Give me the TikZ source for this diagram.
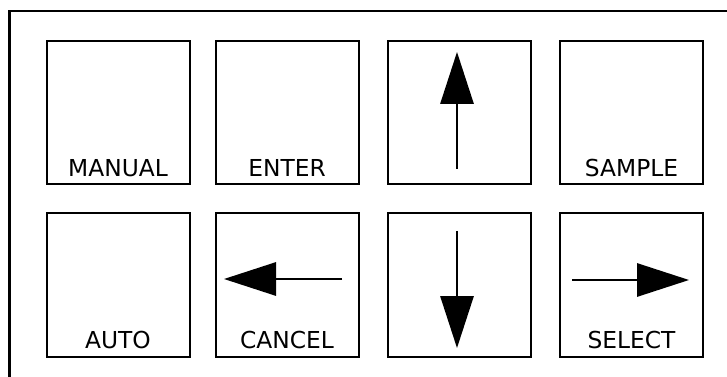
\documentclass[tikz,border=0pt]{standalone}
\usepackage{fontspec}
\setmainfont{DejaVu Sans}
\usetikzlibrary{arrows.meta}
\begin{document}
\begin{tikzpicture}[x=0.75pt,y=-0.75pt]
\tikzstyle{key}=[draw=black,line width=1.5pt,minimum size=107.25pt,inner sep=0pt]
\tikzstyle{keytext}=[anchor=base,inner sep=0pt,font=\fontsize{17.5pt}{20pt}\selectfont]
\tikzstyle{keyarrow}=[black,line width=1.4pt,-{Triangle[length=39pt,width=25pt]}]
\useasboundingbox (0,0) rectangle (727,377);
\clip (0,0) rectangle (727,377);
\draw [black,line width=1.6pt] (9.5,11) rectangle (760,400);
\node [key] (manual) at (118,112.5) {};
\node [key] (enter) at (287,112.5) {};
\node [key] (up) at (459.5,112.5) {};
\node [key] (sample) at (631.5,112.5) {};
\node [key] (auto) at (118,285) {};
\node [key] (cancel) at (287,285) {};
\node [key] (down) at (459.5,285) {};
\node [key] (select) at (631.5,285) {};
\node [keytext] (manualtext) at (118,177) {MANUAL};
\node [keytext] (entertext) at (287,177) {ENTER};
\node [keytext] (sampletext) at (631.5,177) {SAMPLE};
\node [keytext] (autotext) at (118,348) {AUTO};
\node [keytext] (canceltext) at (287,348) {CANCEL};
\node [keytext] (selecttext) at (631.5,348) {SELECT};
\coordinate (upfrom) at (457,169);
\coordinate (upto) at (457,52);
\coordinate (downfrom) at (457,231);
\coordinate (downto) at (457,348);
\coordinate (leftfrom) at (342,279);
\coordinate (leftto) at (224,279);
\coordinate (rightfrom) at (572,280);
\coordinate (rightto) at (689,280);
\draw [keyarrow] (upfrom) -- (upto);
\draw [keyarrow] (downfrom) -- (downto);
\draw [keyarrow] (leftfrom) -- (leftto);
\draw [keyarrow] (rightfrom) -- (rightto);
\end{tikzpicture}
\end{document}
